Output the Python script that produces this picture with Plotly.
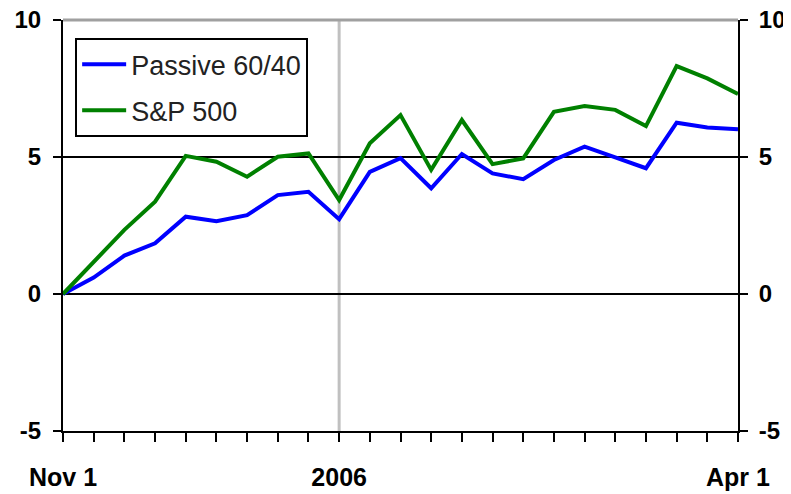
import plotly.graph_objects as go

# weekly points, Nov 1 -> Apr 1
week_index = list(range(23))
tick_labels = ["Nov 1", "", "", "", "", "", "", "", "", "2006", "", "", "", "", "", "", "", "", "", "", "", "", "Apr 1"]

passive_6040 = [0.0, 0.6, 1.4, 1.85, 2.82, 2.66, 2.88, 3.61, 3.73, 2.73, 4.46, 4.96,
                3.86, 5.11, 4.4, 4.19, 4.89, 5.38, 4.99, 4.59, 6.25, 6.08, 6.01]
sp500 = [0.0, 1.15, 2.34, 3.37, 5.04, 4.83, 4.28, 5.01, 5.13, 3.43, 5.5, 6.53,
         4.53, 6.35, 4.74, 4.95, 6.65, 6.86, 6.72, 6.13, 8.32, 7.87, 7.3]

y_ticks = [-5, 0, 5, 10]
y_tick_text = ["-5", "0", "5", "10"]
year_break_index = tick_labels.index("2006")

fig = go.Figure()
fig.add_trace(go.Scatter(x=week_index, y=passive_6040, mode="lines", name="Passive 60/40",
                         legendgroup="a", line=dict(color="#0000FF", width=4)))
fig.add_trace(go.Scatter(x=week_index, y=sp500, mode="lines", name="S&P 500",
                         legendgroup="b", line=dict(color="#008000", width=4)))

x_tick_font = dict(family="Liberation Sans, Arial, sans-serif", size=25, color="#000000", weight="bold")
y_tick_font = dict(family="Liberation Sans, Arial, sans-serif", size=24, color="#000000", weight="bold")

# page body adds an 8px offset; the figure runs 8px past the window on right/bottom
fig.update_layout(
    width=791, height=494,
    margin=dict(l=55, r=61, t=12, b=71, autoexpand=False),
    paper_bgcolor="white", plot_bgcolor="white",
    showlegend=True,
    legend=dict(x=0.018, y=0.956, xanchor="left", yanchor="top",
                bgcolor="white", bordercolor="black", borderwidth=2,
                font=dict(family="Liberation Sans, Arial, sans-serif", size=27, color="#222222"),
                itemwidth=44, tracegroupgap=8),
    xaxis=dict(range=[0, 22], tickmode="array", tickvals=week_index, ticktext=tick_labels,
               ticks="outside", ticklen=9, tickwidth=2, tickcolor="black", automargin=False,
               showline=True, linecolor="black", linewidth=2, showgrid=False, zeroline=False,
               tickfont=x_tick_font, ticklabelstandoff=14, ticklabeloverflow="allow"),
    yaxis=dict(range=[-5, 10], tickmode="array", tickvals=y_ticks, ticktext=y_tick_text,
               ticks="outside", ticklen=8, tickwidth=2, tickcolor="black", automargin=False,
               showline=True, linecolor="black", linewidth=2,
               showgrid=True, gridcolor="black", gridwidth=2, zeroline=False,
               tickfont=y_tick_font, ticklabelstandoff=7, ticklabeloverflow="allow"),
    yaxis2=dict(range=[-5, 10], tickmode="array", tickvals=y_ticks, ticktext=y_tick_text,
                overlaying="y", side="right", automargin=False,
                ticks="outside", ticklen=8, tickwidth=2, tickcolor="black",
                showline=True, linecolor="black", linewidth=2, showgrid=False, zeroline=False,
                tickfont=y_tick_font, ticklabelstandoff=6, ticklabeloverflow="allow"),
    shapes=[
        dict(type="line", xref="x", yref="paper", x0=year_break_index, x1=year_break_index,
             y0=0, y1=1, line=dict(color="#C0C0C0", width=3), layer="below"),
        dict(type="line", xref="paper", yref="paper", x0=0, x1=1, y0=1, y1=1,
             line=dict(color="#A0A0A0", width=3), layer="below"),
    ],
)
# invisible trace to anchor the right axis
fig.add_trace(go.Scatter(x=[0], y=[0], yaxis="y2", mode="lines", showlegend=False,
                         hoverinfo="skip", line=dict(color="rgba(0,0,0,0)")))

fig.write_html("out.html")
